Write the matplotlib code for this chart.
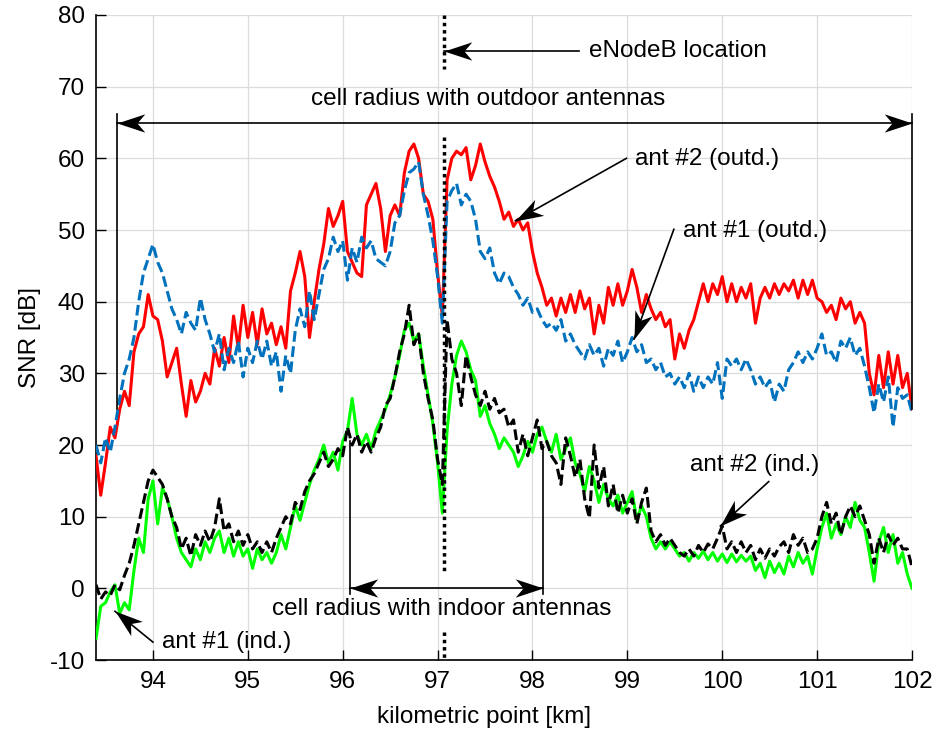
import numpy as np
import matplotlib
matplotlib.use('Agg')
import matplotlib.pyplot as plt
from matplotlib.path import Path
from matplotlib.markers import MarkerStyle
from matplotlib.transforms import Affine2D

plt.rcParams['font.family'] = ['Liberation Sans', 'DejaVu Sans']
plt.rcParams['axes.unicode_minus'] = False

# kilometric points, one sample every 50 m
km = np.linspace(93.4, 102.0, 173)

# ant #2 outdoor (red)
snr_ant2_outd = [
    18.5, 13.0, 17.5, 22.5, 21.0, 25.0, 27.5, 25.5, 33.0, 35.5,
    36.5, 41.0, 38.0, 37.5, 34.5, 29.5, 31.5, 33.5, 28.5, 24.0,
    29.0, 26.0, 27.5, 30.0, 28.5, 33.5, 31.0, 35.0, 31.5, 38.0,
    33.5, 39.5, 35.0, 38.5, 34.0, 39.0, 35.5, 37.0, 34.0, 36.5,
    33.5, 41.5, 44.0, 47.0, 43.5, 35.0, 40.0, 44.5, 48.0, 53.0,
    50.5, 52.0, 54.0, 47.0, 45.5, 44.0, 43.5, 53.5, 55.0, 56.5,
    53.0, 47.0, 52.0, 53.5, 52.0, 58.0, 61.0, 62.0, 60.0, 55.0,
    54.0, 51.5, 44.0, 38.0, 57.0, 60.0, 61.0, 60.5, 61.5, 57.0,
    59.0, 62.0, 59.5, 57.5, 56.0, 54.0, 51.5, 52.5, 50.5, 51.5,
    50.0, 51.0, 47.0, 44.0, 42.0, 39.5, 40.5, 38.0, 40.5, 38.5,
    41.0, 38.5, 41.5, 39.0, 40.5, 35.5, 39.5, 37.0, 42.0, 39.5,
    42.5, 39.5, 41.5, 44.5, 42.0, 38.5, 41.0, 39.0, 37.5, 38.5,
    36.5, 37.5, 32.0, 35.5, 33.5, 36.0, 37.5, 40.0, 42.5, 40.0,
    42.5, 41.0, 43.5, 40.0, 42.5, 40.0, 42.0, 40.5, 42.5, 37.0,
    40.5, 42.0, 40.5, 42.5, 41.0, 42.5, 41.5, 43.0, 40.5, 43.0,
    41.0, 43.0, 40.5, 40.0, 38.5, 39.5, 37.5, 40.5, 39.0, 40.0,
    37.0, 38.5, 37.0, 30.0, 27.0, 32.5, 28.0, 33.0, 28.5, 32.5,
    28.0, 30.0, 25.0,
]

# ant #1 outdoor (blue, dashed)
snr_ant1_outd = [
    20.0, 17.5, 21.0, 19.0, 22.5, 26.5, 30.0, 32.0, 35.0, 40.0,
    44.0, 46.0, 48.0, 45.5, 44.0, 41.5, 39.0, 37.5, 35.5, 38.5,
    37.0, 36.0, 40.5, 37.5, 35.5, 33.0, 35.5, 30.5, 33.5, 31.5,
    34.5, 29.5, 33.5, 31.5, 34.5, 32.0, 34.5, 31.0, 33.0, 27.5,
    32.5, 30.0, 36.0, 39.0, 36.5, 41.5, 37.5, 41.0, 44.5, 46.0,
    49.0, 47.0, 48.5, 43.0, 47.5, 45.5, 49.0, 47.5, 48.5, 46.0,
    45.5, 45.0, 47.0, 51.0, 52.0, 55.5, 58.0, 58.5, 59.5, 55.0,
    52.0, 48.5, 43.5, 37.0, 54.0, 55.5, 56.5, 53.5, 55.0, 54.0,
    51.5, 47.0, 46.0, 47.5, 44.0, 42.5, 44.0, 43.5, 42.0, 41.0,
    39.5, 40.5, 38.5, 39.0, 37.5, 36.5, 37.0, 36.0, 37.5, 34.5,
    35.5, 34.0, 33.0, 32.0, 34.0, 32.5, 33.5, 31.0, 33.5, 32.5,
    34.5, 31.5, 33.0, 35.0, 33.0, 34.0, 31.5, 32.0, 30.5, 31.5,
    29.5, 30.0, 28.5, 29.5, 28.0, 30.0, 27.5, 29.5, 28.0, 29.5,
    28.5, 31.5, 26.5, 32.0, 31.0, 32.0, 30.5, 32.0, 30.5, 28.5,
    29.5, 28.0, 29.0, 26.0, 28.5, 27.5, 30.5, 31.5, 33.0, 31.5,
    33.0, 32.0, 33.5, 35.5, 32.5, 33.0, 31.5, 34.5, 33.5, 35.0,
    32.5, 33.5, 31.0, 28.0, 24.5, 28.5, 26.0, 29.5, 22.5, 28.0,
    26.5, 27.0, 24.5,
]

# ant #1 indoor (green)
snr_ant1_ind = [
    -7.0, -2.5, -2.0, -0.5, 0.5, -3.5, -2.0, -3.0, 2.5, 7.0,
    5.0, 12.5, 15.0, 9.0, 14.0, 12.5, 10.0, 7.0, 5.0, 4.0,
    3.0, 5.5, 4.0, 6.5, 5.0, 7.0, 8.0, 5.0, 7.0, 4.5,
    6.5, 4.5, 5.5, 2.8, 5.5, 4.0, 5.0, 3.5, 5.0, 7.5,
    5.5, 8.5, 11.5, 9.5, 12.0, 14.5, 16.5, 18.0, 20.0, 17.5,
    19.0, 16.5, 20.5, 22.0, 26.5, 21.5, 20.0, 21.5, 19.5, 22.0,
    23.5, 25.0, 27.0, 29.5, 32.5, 36.0, 37.0, 34.5, 35.5, 31.0,
    27.0, 23.0, 17.5, 10.5, 22.0, 28.5, 32.5, 34.5, 33.0, 30.5,
    29.0, 24.0, 25.5, 23.0, 21.5, 19.5, 21.0, 20.0, 19.0, 17.0,
    18.5, 20.5, 19.0, 21.5, 22.5, 20.5, 19.0, 21.5, 18.0, 19.5,
    21.0, 17.5, 16.0, 13.5, 17.0, 15.0, 12.0, 14.5, 12.5, 11.5,
    13.0, 10.5, 12.0, 13.5, 9.5, 11.5, 10.0, 7.0, 5.5, 6.5,
    5.5, 6.5, 5.5, 4.5, 5.0, 3.8, 5.0, 4.2, 5.2, 4.0,
    5.0, 3.8, 4.8, 3.6, 4.8, 3.7, 4.6, 3.8, 4.5, 2.5,
    3.5, 1.5, 3.8, 2.2, 3.5, 2.0, 4.5, 3.0, 5.0, 3.5,
    4.5, 2.0, 5.5, 8.5, 10.5, 7.0, 9.0, 7.5, 10.0, 8.5,
    12.0, 9.5, 8.5, 5.0, 1.0, 6.5, 8.5, 5.0, 7.5, 3.5,
    5.0, 2.0, 0.0,
]

# ant #2 indoor (black, dashed)
snr_ant2_ind = [
    0.5, -1.5, -0.5, -1.0, 0.5, -0.2, 1.8, 3.5, 6.0, 9.0,
    12.0, 15.0, 16.5, 15.5, 14.5, 12.5, 10.0, 8.5, 5.5, 7.0,
    4.5, 7.5, 6.0, 8.0, 6.5, 8.5, 12.5, 8.0, 9.0, 6.5,
    8.0, 6.0, 7.5, 5.5, 6.5, 5.0, 6.5, 5.0, 7.0, 8.5,
    10.0, 9.0, 12.0, 11.0, 13.5, 15.0, 16.0, 17.5, 19.0, 17.0,
    18.0, 19.5, 18.5, 22.5, 20.0, 21.5, 19.0, 20.5, 19.0, 21.0,
    22.5, 25.5, 26.5, 29.5, 33.0, 35.5, 39.5, 34.0, 35.5, 30.0,
    26.5, 23.5, 18.0, 14.5, 37.5, 32.0, 30.0, 25.5, 32.5, 29.5,
    27.0, 25.5, 27.5, 25.0, 26.5, 24.5, 25.0, 22.5, 23.5, 19.0,
    21.5, 18.5, 21.0, 23.5, 19.5, 20.5, 18.5, 17.5, 14.5, 21.0,
    18.5, 15.5, 18.0, 12.5, 9.8, 20.0, 14.0, 17.0, 11.5, 14.5,
    10.5, 13.0, 10.5, 12.5, 9.0, 12.0, 14.0, 8.0, 6.5, 7.5,
    6.0, 7.0, 6.0, 5.0, 4.5, 5.5, 4.5, 6.0, 5.0, 6.2,
    5.5, 7.0, 8.7, 5.5, 6.5, 5.0, 6.5, 5.0, 6.0, 4.0,
    5.5, 4.2, 5.5, 4.5, 5.8, 6.5, 5.0, 7.5, 6.0, 7.0,
    5.0, 5.5, 7.0, 10.0, 12.0, 9.0, 10.5, 7.5, 10.0, 11.5,
    10.0, 11.5, 9.5, 7.5, 3.5, 7.0, 5.0, 7.5, 6.0, 7.0,
    5.5, 5.5, 3.0,
]

x_ticks = [94, 95, 96, 97, 98, 99, 100, 101, 102]
y_ticks = [-10, 0, 10, 20, 30, 40, 50, 60, 70, 80]

enb_km = 97.07
outd_radius = (93.62, 102.0)
ind_radius = (96.08, 98.11)

FS = 17.5

# arrow head shaped like matlab's "vback2"
HEAD = Path([(0, 0), (-1, 0.33), (-0.72, 0), (-1, -0.33), (0, 0)], closed=True)


def put_head(ax, tip, frm, ms=40):
    p1 = ax.transData.transform(tip)
    p0 = ax.transData.transform(frm)
    ang = np.degrees(np.arctan2(p1[1] - p0[1], p1[0] - p0[0]))
    mk = MarkerStyle(HEAD, transform=Affine2D().rotate_deg(ang))
    ax.plot([tip[0]], [tip[1]], marker=mk, ms=ms, color='k', mew=0,
            zorder=8, clip_on=False)


def arrow(ax, tail, tip, both=False):
    ax.plot([tail[0], tip[0]], [tail[1], tip[1]], color='k', lw=1.2,
            zorder=7, clip_on=False)
    put_head(ax, tip, tail)
    if both:
        put_head(ax, tail, tip)


fig = plt.figure(figsize=(9.33, 7.35), dpi=100)
ax = fig.add_axes([0.1029, 0.1020, 0.8746, 0.8776])
ax.set_xlim(93.4, 102)
ax.set_ylim(-10, 80)

ax.plot(km, snr_ant2_outd, color='#ff0000', lw=2.2, zorder=3)
ax.plot(km, snr_ant1_outd, color='#0072bd', lw=2.2, ls=(0, (3.5, 1.5)), zorder=3)
ax.plot(km, snr_ant1_ind, color='#00ff00', lw=2.2, zorder=4)
ax.plot(km, snr_ant2_ind, color='k', lw=2.2, ls=(0, (3.5, 1.5)), zorder=4)

# eNodeB position
for y0, y1 in [(80, 72.5), (63.0, 2.2), (-6.1, -10)]:
    ax.plot([enb_km, enb_km], [y0, y1], color='k', lw=2.5, ls=(0, (1, 1.1)),
            zorder=6, clip_on=False)

# outdoor cell radius
ax.plot([outd_radius[0]] * 2, [66.2, 25], color='k', lw=1.2, zorder=7)
ax.plot([outd_radius[1]] * 2, [66.2, 25], color='k', lw=1.2, zorder=7, clip_on=False)
arrow(ax, (outd_radius[0], 65), (outd_radius[1], 65), both=True)
ax.text(97.53, 68.3, 'cell radius with outdoor antennas', ha='center',
        va='center', fontsize=FS)

# indoor cell radius
ax.plot([ind_radius[0]] * 2, [-0.8, 20.5], color='k', lw=1.2, zorder=7)
ax.plot([ind_radius[1]] * 2, [-0.8, 20.0], color='k', lw=1.2, zorder=7)
arrow(ax, (ind_radius[0], 0), (ind_radius[1], 0), both=True)
ax.text(97.04, -2.9, 'cell radius with indoor antennas', ha='center',
        va='center', fontsize=FS)

# labels with arrows
arrow(ax, (98.49, 75.0), (enb_km, 75.0))
ax.text(98.6, 75.0, 'eNodeB location', va='center', fontsize=FS)

arrow(ax, (98.99, 60.0), (97.82, 51.3))
ax.text(99.08, 59.9, 'ant #2 (outd.)', va='center', fontsize=FS)

arrow(ax, (99.49, 50.1), (99.07, 34.8))
ax.text(99.59, 49.9, 'ant #1 (outd.)', va='center', fontsize=FS)

arrow(ax, (100.49, 14.9), (99.98, 8.7))
ax.text(99.66, 17.2, 'ant #2 (ind.)', va='center', fontsize=FS)

arrow(ax, (94.0, -7.5), (93.6, -3.2))
ax.text(94.1, -7.5, 'ant #1 (ind.)', va='center', fontsize=FS)

ax.set_xticks(x_ticks)
ax.set_yticks(y_ticks)
ax.tick_params(direction='in', length=7, width=1, labelsize=FS, pad=8)
ax.grid(True, color='#dcdcdc', lw=0.9)
ax.set_axisbelow(True)
for s in ['top', 'right']:
    ax.spines[s].set_visible(False)
for s in ['left', 'bottom']:
    ax.spines[s].set_linewidth(1.2)
ax.set_xlabel('kilometric point [km]', fontsize=FS)
ax.xaxis.set_label_coords(0.475, -0.072)
ax.set_ylabel('SNR [dB]', fontsize=FS, labelpad=6)

fig.savefig('out.png', dpi=100)
